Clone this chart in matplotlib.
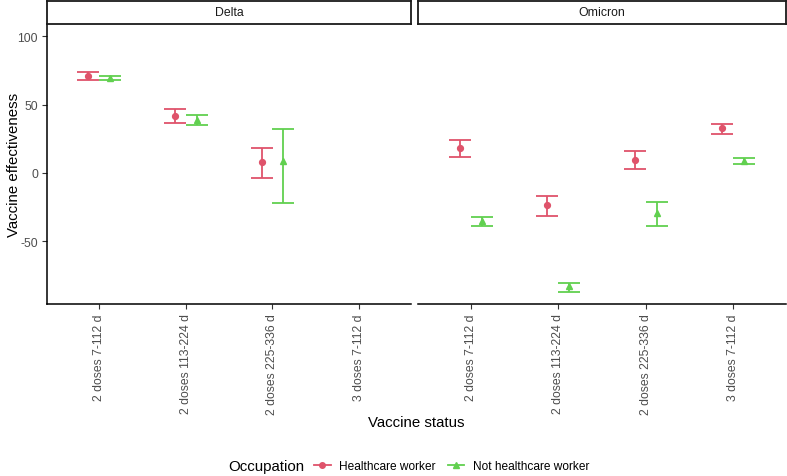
import numpy as np
import matplotlib
matplotlib.use('Agg')
import matplotlib.pyplot as plt
from matplotlib.lines import Line2D

plt.rcParams['font.family'] = ['Liberation Sans', 'DejaVu Sans']
plt.rcParams['axes.unicode_minus'] = False

categories = ['2 doses 7-112 d', '2 doses 113-224 d',
              '2 doses 225-336 d', '3 doses 7-112 d']
variants = ['Delta', 'Omicron']
groups = ['Healthcare worker', 'Not healthcare worker']

# estimate, lower, upper per variant / occupation
delta_hcw = [71.2, 41.7, 8.0, np.nan]
delta_hcw_lo = [68.3, 36.4, -3.7, np.nan]
delta_hcw_hi = [74.2, 46.9, 18.3, np.nan]
delta_nhcw = [69.5, 39.0, 9.0, np.nan]
delta_nhcw_lo = [68.1, 35.1, -22.0, np.nan]
delta_nhcw_hi = [70.8, 42.7, 32.2, np.nan]

omi_hcw = [18.0, -23.7, 9.5, 32.7]
omi_hcw_lo = [11.5, -31.2, 2.7, 28.3]
omi_hcw_hi = [23.9, -16.8, 15.9, 36.1]
omi_nhcw = [-35.4, -83.0, -29.5, 8.8]
omi_nhcw_lo = [-38.6, -86.9, -39.0, 6.4]
omi_nhcw_hi = [-32.2, -80.3, -21.0, 10.7]

data = {
    'Delta': [(delta_hcw, delta_hcw_lo, delta_hcw_hi),
              (delta_nhcw, delta_nhcw_lo, delta_nhcw_hi)],
    'Omicron': [(omi_hcw, omi_hcw_lo, omi_hcw_hi),
                (omi_nhcw, omi_nhcw_lo, omi_nhcw_hi)],
}

colors = ['#DF536B', '#61D04F']
markers = ['o', '^']
offsets = [-0.125, 0.125]

W, H = 787, 477
fig = plt.figure(figsize=(W / 100, H / 100), dpi=100)

panel_x = [(47, 411), (418, 786)]
top, bottom = 24.5, 305
strip_top = 2

for i, var in enumerate(variants):
    x0, x1 = panel_x[i]
    ax = fig.add_axes([x0 / W, 1 - bottom / H, (x1 - x0) / W,
                       (bottom - top) / H])
    xs = np.arange(1, len(categories) + 1)
    for g, (est, lo, hi) in enumerate(data[var]):
        est = np.array(est)
        lo = np.array(lo)
        hi = np.array(hi)
        yerr = np.vstack([est - lo, hi - est])
        ax.errorbar(xs + offsets[g], est, yerr=yerr, fmt=markers[g],
                    color=colors[g], ms=4.2, elinewidth=1.3, capsize=7.8,
                    capthick=1.3)
    ax.set_xlim(0.4, 4.6)
    ax.set_ylim(-95.9, 109.4)
    ax.set_xticks(xs)
    ax.set_xticklabels(categories, rotation=90, fontsize=8.8,
                       color='#4d4d4d')
    ax.set_yticks([-50, 0, 50, 100])
    ax.tick_params(axis='both', length=3.5, width=0.8, color='#333333',
                   labelsize=8.8, labelcolor='#4d4d4d', pad=3)
    for s in ['top', 'right']:
        ax.spines[s].set_visible(False)
    ax.spines['bottom'].set_linewidth(1.1)
    if i == 0:
        ax.spines['left'].set_linewidth(1.1)
    else:
        ax.spines['left'].set_visible(False)
        ax.tick_params(axis='y', left=False, labelleft=False)

    # strip
    sax = fig.add_axes([x0 / W, 1 - top / H, (x1 - x0) / W,
                        (top - strip_top) / H])
    sax.set_xticks([])
    sax.set_yticks([])
    for s in sax.spines.values():
        s.set_linewidth(1.3)
        s.set_color('#1a1a1a')
    sax.text(0.5, 0.5, var, ha='center', va='center', fontsize=8.8,
             color='#1a1a1a', transform=sax.transAxes)

fig.text(14 / W, 1 - 165 / H, 'Vaccine effectiveness', rotation=90,
         ha='center', va='center', fontsize=10.8)
fig.text(416 / W, 1 - 423 / H, 'Vaccine status', ha='center', va='center',
         fontsize=10.8)

fig.text(266 / W, 1 - 467 / H, 'Occupation', ha='center', va='center',
         fontsize=10.8)
handles = [Line2D([], [], color=colors[g], marker=markers[g], ms=4,
                  lw=1.3) for g in range(2)]
fig.legend(handles, groups, loc='center left',
           bbox_to_anchor=(314 / W, 1 - 467 / H), ncol=2, frameon=False,
           fontsize=8.6, handlelength=1.4, handletextpad=0.7,
           columnspacing=1.0, borderaxespad=0, borderpad=0)

fig.savefig('out.png', dpi=100)
